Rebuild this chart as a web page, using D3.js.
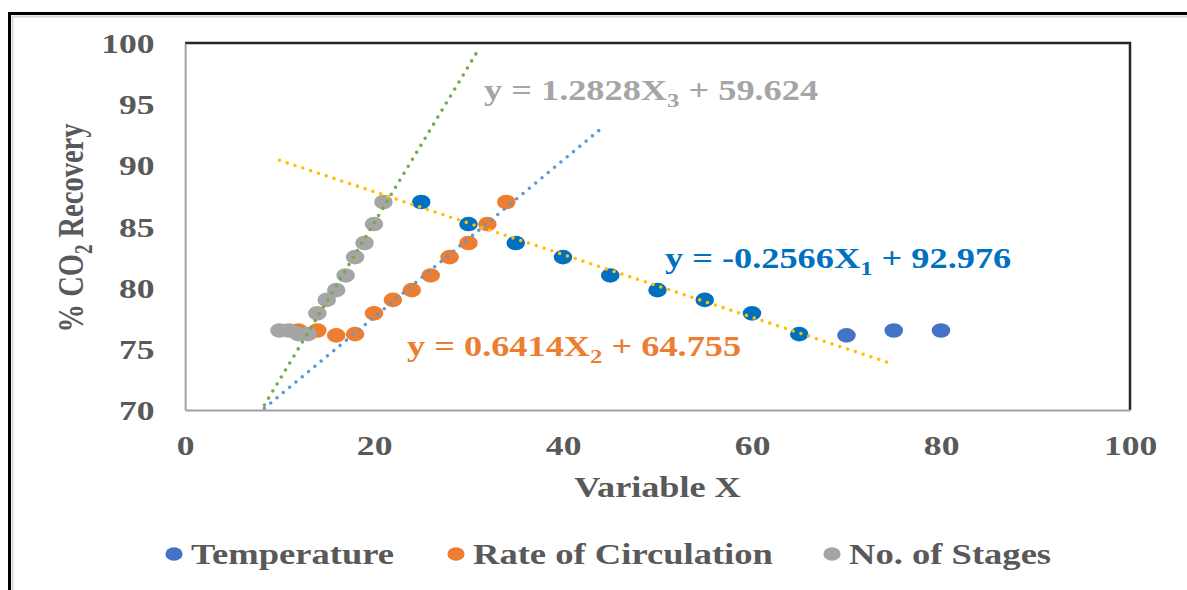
<!DOCTYPE html>
<html>
<head>
<meta charset="utf-8">
<script src="https://cdn.jsdelivr.net/npm/d3@7"></script>
<style>
  body { margin: 0; background: #fff; }
  svg { display: block; }
  text { font-family: "Liberation Serif", "Times New Roman", serif; font-weight: bold; }
</style>
</head>
<body>
<svg id="chart" width="1187" height="590"></svg>
<script>
// values
const tempX = [25, 30, 35, 40, 45, 50, 55, 60, 65, 70, 75, 80];
const tempY = [87.0, 85.2, 83.65, 82.5, 81.0, 79.8, 79.0, 77.9, 76.2, 76.1, 76.5, 76.5];
const tempFitMax = 65; // points up to here are the ones used for the fit (darker blue)

const rateX = [12, 14, 16, 18, 20, 22, 24, 26, 28, 30, 32, 34];
const rateY = [76.5, 76.5, 76.1, 76.2, 77.9, 79.0, 79.8, 81.0, 82.5, 83.65, 85.2, 87.0];

const stageX = [10, 11, 12, 13, 14, 15, 16, 17, 18, 19, 20, 21];
const stageY = [76.5, 76.5, 76.2, 76.2, 77.9, 79.0, 79.8, 81.0, 82.5, 83.65, 85.2, 87.0];

// trendlines as printed on the chart: slope, intercept, x range drawn
const trendNames = ["Temperature", "Rate of Circulation", "No. of Stages"];
const trendSlope = [-0.2566, 0.6414, 1.2828];
const trendIntercept = [92.976, 64.755, 59.624];
const trendFrom = [10, 8.4, 8.4];
const trendTo = [74.5, 44, 31];

const xTicks = [0, 20, 40, 60, 80, 100];
const yTicks = [70, 75, 80, 85, 90, 95, 100];

// the picture is stretched sideways, so draw in a squeezed space and scale it back
const S = 1.27;
const txt = "#595959";

const svg = d3.select("#chart");
svg.append("rect").attr("width", 1187).attr("height", 590).attr("fill", "#fff");

// outer frame
svg.append("path").attr("d", "M12.5,590 V16.5 H1187").attr("fill", "none")
  .attr("stroke", "#d9d9d9").attr("stroke-width", 2);
svg.append("path").attr("d", "M9.5,590 V13.5 H1187").attr("fill", "none")
  .attr("stroke", "#000").attr("stroke-width", 3);

const g = svg.append("g").attr("transform", `scale(${S},1)`);

const x = d3.scaleLinear().domain([0, 100]).range([185 / S, 1130 / S]);
const y = d3.scaleLinear().domain([70, 100]).range([410, 43]);

// plot area top/right border
g.append("path")
  .attr("d", `M${x(0)},${y(100)} H${x(100)} V${y(70)}`)
  .attr("fill", "none").attr("stroke", "#262626").attr("stroke-width", 2.5)
  .attr("vector-effect", "non-scaling-stroke");

const yAxisG = g.append("g").attr("transform", `translate(${x(0)},0)`)
  .call(d3.axisLeft(y).tickValues(yTicks).tickSize(0).tickPadding(24));
const xAxisG = g.append("g").attr("transform", `translate(0,${y(70)})`)
  .call(d3.axisBottom(x).tickValues(xTicks).tickSize(0));

[yAxisG, xAxisG].forEach(a => {
  a.select(".domain").attr("stroke", "#a0a0a0").attr("stroke-width", 2)
    .attr("vector-effect", "non-scaling-stroke");
  a.selectAll("text").attr("font-family", "Liberation Serif").attr("font-weight", "bold")
    .attr("font-size", 28).attr("fill", txt);
});
yAxisG.selectAll("text").attr("dy", "0.34em");
xAxisG.selectAll("text").attr("y", 45).attr("dy", 0);

// axis titles
g.append("text").attr("x", x(50)).attr("y", 497).attr("text-anchor", "middle")
  .attr("font-size", 28.5).attr("fill", txt).text("Variable X");

const yt = g.append("text").attr("transform", `translate(${83 / S},228) rotate(-90)`)
  .attr("text-anchor", "middle").attr("font-size", 28.5).attr("fill", txt);
yt.append("tspan").text("% CO");
yt.append("tspan").attr("font-size", 19).attr("dy", 7).text("2");
yt.append("tspan").attr("dy", -7).text(" Recovery");

// markers
const pts = (xs, ys) => xs.map((v, i) => ({ x: v, y: ys[i] }));

g.append("g").selectAll("circle").data(pts(tempX, tempY)).join("circle")
  .attr("cx", d => x(d.x)).attr("cy", d => y(d.y)).attr("r", 7.3)
  .attr("fill", d => d.x <= tempFitMax ? "#0070c0" : "#4472c4");

g.append("g").selectAll("circle").data(pts(rateX, rateY)).join("circle")
  .attr("cx", d => x(d.x)).attr("cy", d => y(d.y)).attr("r", 7.3)
  .attr("fill", "#ed7d31");

g.append("g").selectAll("circle").data(pts(stageX, stageY)).join("circle")
  .attr("cx", d => x(d.x)).attr("cy", d => y(d.y)).attr("r", 7.3)
  .attr("fill", "#a5a5a5");

// dotted trendlines
const trendColor = ["#ffc000", "#5b9bd5", "#70ad47"];
const line = d3.line().x(d => x(d[0])).y(d => y(d[1]));
trendNames.forEach((n, i) => {
  const f = v => trendSlope[i] * v + trendIntercept[i];
  g.append("path")
    .attr("d", line([[trendFrom[i], f(trendFrom[i])], [trendTo[i], f(trendTo[i])]]))
    .attr("fill", "none").attr("stroke", trendColor[i]).attr("stroke-width", 3.6)
    .attr("stroke-linecap", "round").attr("stroke-dasharray", "0 8.2")
    .attr("vector-effect", "non-scaling-stroke");
});

// equation labels
const eqText = [
  { pre: "y = -0.2566X", sub: "1", post: " + 92.976", x: 665, y: 268, c: "#0070c0" },
  { pre: "y = 0.6414X", sub: "2", post: " + 64.755", x: 407, y: 356, c: "#ed7d31" },
  { pre: "y = 1.2828X", sub: "3", post: " + 59.624", x: 484, y: 100, c: "#a5a5a5" }
];
eqText.forEach(e => {
  const t = g.append("text").attr("x", e.x / S).attr("y", e.y)
    .attr("font-size", 28.6).attr("fill", e.c);
  t.append("tspan").text(e.pre);
  t.append("tspan").attr("font-size", 19.5).attr("dy", 7).text(e.sub);
  t.append("tspan").attr("dy", -7).text(e.post);
});

// legend
const legColor = ["#4472c4", "#ed7d31", "#a5a5a5"];
const legX = [174, 456, 832];
trendNames.forEach((n, i) => {
  g.append("circle").attr("cx", legX[i] / S).attr("cy", 554).attr("r", 6.8).attr("fill", legColor[i]);
  g.append("text").attr("x", (legX[i] + 17) / S).attr("y", 564)
    .attr("font-size", 28.8).attr("fill", txt).text(n);
});
</script>
</body>
</html>
